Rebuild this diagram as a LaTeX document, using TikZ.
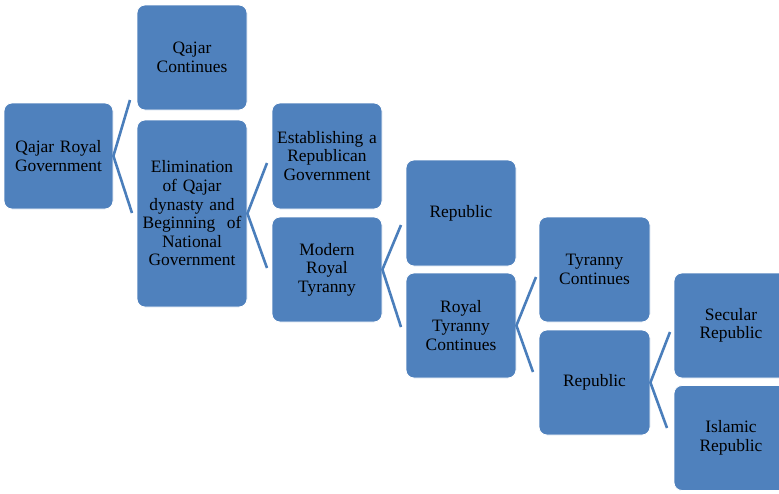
\documentclass[tikz,border=0pt]{standalone}
\usepackage{fontspec}
\setmainfont{Liberation Serif}
\definecolor{boxblue}{HTML}{4F81BD}
\definecolor{lineblue}{HTML}{4A7EBB}
\tikzset{
  box/.style={draw=white, line width=0.8pt, fill=boxblue, rounded corners=8pt,
    text=black, align=center, inner sep=1pt,
    font=\fontsize{17.4}{18.6}\selectfont},
  conn/.style={draw=lineblue, line width=2.6pt}
}
\begin{document}
\begin{tikzpicture}[x=1pt, y=-1pt]
\clip (0,0) rectangle (779,493);
\fill[white] (0,0) rectangle (779,493);
\node[box, minimum width=109pt, minimum height=106pt, text width=107pt] (a) at (58.5,156) {Qajar Royal\\Government};
\node[box, minimum width=110pt, minimum height=105pt, text width=107pt] (b) at (192,57.5) {Qajar\\Continues};
\node[box, minimum width=110pt, minimum height=187pt, text width=107pt] (c) at (192,213.5) {Elimination\\of Qajar\\dynasty and\\Beginning\ \ of\\National\\Government};
\node[box, minimum width=110pt, minimum height=106pt, text width=108pt] (d) at (327,156) {Establishing a\\Republican\\Government};
\node[box, minimum width=110pt, minimum height=105pt, text width=107pt] (e) at (327,269.5) {Modern\\Royal\\Tyranny};
\node[box, minimum width=110pt, minimum height=106pt, text width=107pt] (f) at (461,213) {Republic};
\node[box, minimum width=110pt, minimum height=105pt, text width=107pt] (g) at (461,325.5) {Royal\\Tyranny\\Continues};
\node[box, minimum width=111pt, minimum height=105pt, text width=107pt] (h) at (594.5,269.5) {Tyranny\\Continues};
\node[box, minimum width=111pt, minimum height=105pt, text width=107pt] (i) at (594.5,382.5) {Republic};
\node[box, minimum width=114pt, minimum height=105pt, text width=107pt] (j) at (731,325.5) {Secular\\Republic};
\node[box, minimum width=114pt, minimum height=105pt, text width=107pt] (k) at (731,438) {Islamic\\Republic};
\coordinate (ab) at (130,100);
\coordinate (ac) at (132,213);
\coordinate (cd) at (267,163);
\coordinate (ce) at (267,268);
\coordinate (ef) at (401,225);
\coordinate (eg) at (401,327);
\coordinate (gh) at (536,277);
\coordinate (gi) at (533,372);
\coordinate (ij) at (670,332);
\coordinate (ik) at (667,428);
\draw[conn] (ab) -- (a.east) -- (ac);
\draw[conn] (cd) -- (c.east) -- (ce);
\draw[conn] (ef) -- (e.east) -- (eg);
\draw[conn] (gh) -- (g.east) -- (gi);
\draw[conn] (ij) -- (i.east) -- (ik);
\end{tikzpicture}
\end{document}
